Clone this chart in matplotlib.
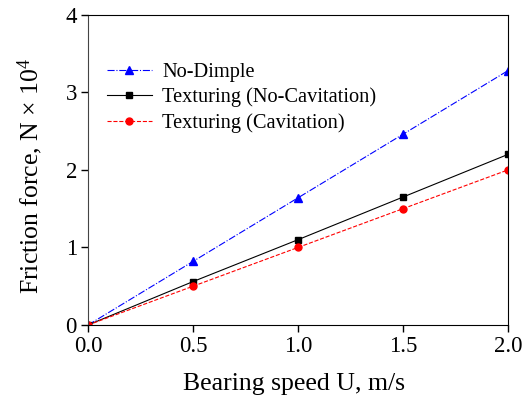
import matplotlib
matplotlib.use("Agg")
import matplotlib.pyplot as plt

speed = [0.0, 0.5, 1.0, 1.5, 2.0]
no_dimple = [0.0, 0.82, 1.64, 2.46, 3.28]
tex_nocav = [0.0, 0.56, 1.10, 1.65, 2.20]
tex_cav = [0.0, 0.50, 1.00, 1.50, 2.00]

plt.rcParams['font.family'] = ['Liberation Serif', 'DejaVu Serif']
plt.rcParams['mathtext.fontset'] = 'custom'
plt.rcParams['mathtext.rm'] = 'Liberation Serif'
plt.rcParams['mathtext.it'] = 'Liberation Serif:italic'
plt.rcParams['mathtext.bf'] = 'Liberation Serif:bold'

fig = plt.figure(figsize=(5.28, 3.98), dpi=100)
ax = fig.add_axes([0.1667, 0.1834, 0.795, 0.779])

ax.plot(speed, no_dimple, color='blue', linestyle='-.', marker='^', markersize=5.5, linewidth=0.8, label='No-Dimple')
ax.plot(speed, tex_nocav, color='black', linestyle='-', marker='s', markersize=4.5, linewidth=0.8, label='Texturing (No-Cavitation)')
ax.plot(speed, tex_cav, color='red', linestyle='--', marker='o', markersize=5, linewidth=0.8, label='Texturing (Cavitation)')

ax.set_xlim(0, 2.0)
ax.set_ylim(0, 4)
ax.set_xticks([0.0, 0.5, 1.0, 1.5, 2.0])
ax.set_xticklabels(['0.0', '0.5', '1.0', '1.5', '2.0'])
ax.set_yticks([0, 1, 2, 3, 4])
ax.tick_params(direction='out', length=5, width=1, labelsize=16.5, top=False, right=False, pad=3)
ax.set_xlabel('Bearing speed U, m/s', fontsize=18.5)
ax.set_ylabel('Friction force, N × 10$^\\mathrm{4}$', fontsize=18.5)
ax.xaxis.set_label_coords(0.49, -0.155)
ax.yaxis.set_label_coords(-0.102, 0.48)
ax.spines['left'].set_color('#444444')

ax.legend(loc='upper left', bbox_to_anchor=(0.045, 0.846), frameon=False, fontsize=14.7,
          handlelength=2.2, handletextpad=0.5, labelspacing=0.28, borderpad=0, borderaxespad=0)

fig.savefig('out.png', dpi=100)
